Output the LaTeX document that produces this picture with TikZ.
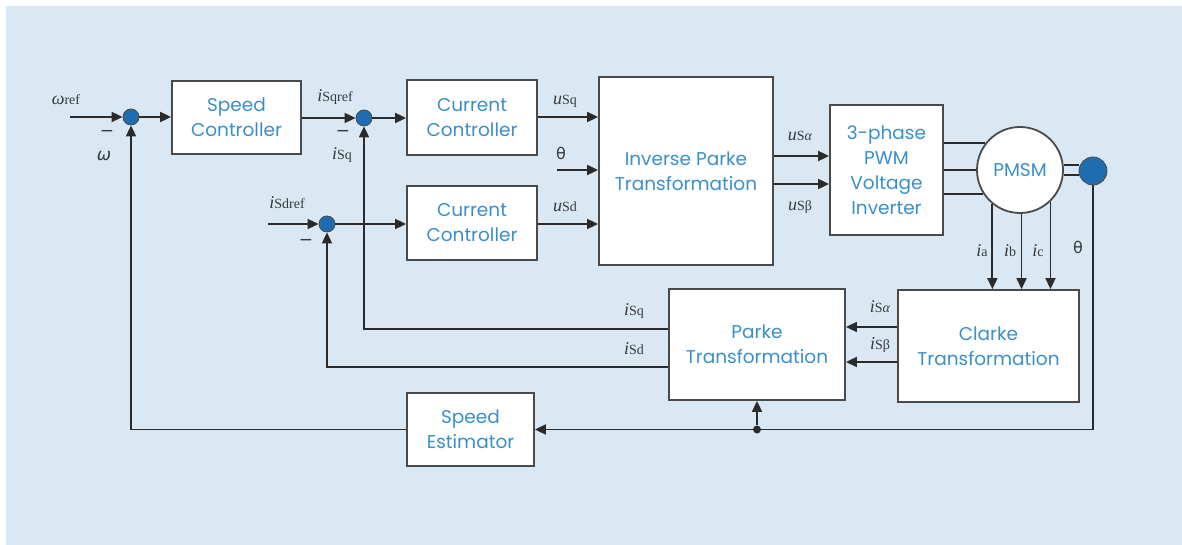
\documentclass[tikz,border=0pt]{standalone}
\usepackage{fontspec}
\setmainfont{Liberation Serif}
\newfontfamily\boxfont{Poppins}
\newfontfamily\grk{DejaVu Sans}
\usetikzlibrary{arrows.meta,calc}
\definecolor{bgc}{HTML}{D9E8F3}
\definecolor{linec}{HTML}{2B2B2B}
\definecolor{boxc}{HTML}{4A4A4A}
\definecolor{sumblue}{HTML}{1E6DB0}
\definecolor{txtc}{HTML}{3A8FCB}
\definecolor{labc}{HTML}{3A3A3A}
\newcommand{\sig}[2]{{\fontsize{18}{18}\selectfont\textit{#1}}{\fontsize{14}{14}\selectfont #2}}
\begin{document}
\begin{tikzpicture}[x=1pt,y=-1pt,
  blk/.style={draw=boxc, line width=1.8pt, fill=white, text=txtc, align=center, inner sep=0pt,
    font=\boxfont\fontsize{18.5}{25}\selectfont},
  sumc/.style={circle, fill=sumblue, draw=boxc, line width=0.8pt, minimum size=16pt, inner sep=0pt},
  arr/.style={line width=1.8pt, draw=linec, -{Triangle[length=11pt,width=10pt]}},
  ln/.style={line width=1.8pt, draw=linec},
  lab/.style={text=labc, inner sep=0pt},
  glab/.style={text=labc, inner sep=0pt, font=\grk\fontsize{16}{16}\selectfont},
  minus/.style={text=labc, inner sep=0pt, font=\grk\fontsize{17}{17}\selectfont},
  dot/.style={circle, fill=linec, minimum size=8pt, inner sep=0pt}
]
\useasboundingbox (0,0) rectangle (1182,545);
\fill[bgc] (6,6) rectangle (1182,545);

% blocks
\node[blk, minimum width=129pt, minimum height=73pt] (spc) at (236.5,117.5) {Speed\\Controller};
\node[blk, minimum width=130pt, minimum height=75pt] (cc1) at (472,117.5) {Current\\Controller};
\node[blk, minimum width=130pt, minimum height=74pt] (cc2) at (472,223) {Current\\Controller};
\node[blk, minimum width=174pt, minimum height=188pt] (ipt) at (686,171) {Inverse Parke\\Transformation};
\node[blk, minimum width=113pt, minimum height=130pt] (pwm) at (886.5,170) {3-phase\\PWM\\Voltage\\Inverter};
\node[blk, circle, minimum size=86pt] (pmsm) at (1020,170) {PMSM};
\node[sumc, minimum size=28pt] (enc) at (1093,171) {};
\node[blk, minimum width=181pt, minimum height=112pt] (clk) at (988.5,346) {Clarke\\Transformation};
\node[blk, minimum width=176pt, minimum height=111pt] (prk) at (757,344.5) {Parke\\Transformation};
\node[blk, minimum width=127pt, minimum height=73pt] (est) at (470.5,429.5) {Speed\\Estimator};

% summing junctions
\node[sumc] (s1) at (131,117) {};
\node[sumc] (s2) at (364,118) {};
\node[sumc] (s3) at (327,224) {};

% input coordinates
\coordinate (win) at (70,117);
\coordinate (idin) at (268,224);
\coordinate (thin) at (557,170);

% forward path
\draw[arr] (win) -- (s1);
\draw[arr] (s1) -- (s1 -| spc.west);
\draw[arr] (spc.east |- s2) -- (s2);
\draw[arr] (s2) -- (s2 -| cc1.west);
\draw[arr] (idin) -- (s3);
\draw[arr] (s3) -- (s3 -| cc2.west);
\draw[arr] (cc1.east |- 0,117) -- (ipt.west |- 0,117);
\draw[arr] (thin) -- (thin -| ipt.west);
\draw[arr] (cc2.east |- 0,224) -- (ipt.west |- 0,224);
\draw[arr] (ipt.east |- 0,156) -- (pwm.west |- 0,156);
\draw[arr] (ipt.east |- 0,184) -- (pwm.west |- 0,184);

% inverter to motor
\draw[ln] (pmsm.142.8 -| pwm.east) -- (pmsm.142.8);
\draw[ln] (pmsm.180 -| pwm.east) -- (pmsm.180);
\draw[ln] (pmsm.213.9 -| pwm.east) -- (pmsm.213.9);
% shaft
\draw[ln, line width=1.4pt] ([yshift=5pt]pmsm.east) -- ([yshift=5pt]pmsm.east -| enc.west);
\draw[ln, line width=1.4pt] ([yshift=-5pt]pmsm.east) -- ([yshift=-5pt]pmsm.east -| enc.west);

% phase currents
\draw[arr] (pmsm.231.1) -- (pmsm.231.1 |- clk.north);
\draw[arr] (pmsm.272.7) -- (pmsm.272.7 |- clk.north);
\draw[arr] (pmsm.314.3) -- (pmsm.314.3 |- clk.north);

% Clarke -> Parke
\draw[arr] (clk.west |- 0,327) -- (prk.east |- 0,327);
\draw[arr] (clk.west |- 0,362) -- (prk.east |- 0,362);

% Parke feedback
\draw[arr] (prk.west |- 0,329) -| (s2.south);
\draw[arr] (prk.west |- 0,367) -| (s3.south);

% angle / speed feedback
\node[dot] (j) at (prk.south |- est.east) {};
\draw[arr] (enc.south) |- (est.east);
\draw[arr] (j) -- (prk.south);
\draw[arr] (est.west) -| (s1.south);

% labels
\node[lab] (lw) at (66,100) {{\fontsize{18}{18}\selectfont\textit{ω}}{\fontsize{14}{14}\selectfont ref}};
\node[minus] (m1) at (107,133) {−};
\node[glab, font=\grk\itshape\fontsize{17}{17}\selectfont] (lom) at (104,156) {ω};
\node[lab] (l1) at (335,97) {\sig{i}{Sqref}};
\node[minus] (m2) at (343,133) {−};
\node[lab] (l2) at (342,155) {\sig{i}{Sq}};
\node[lab] (l3) at (287,203) {\sig{i}{Sdref}};
\node[minus] (m3) at (306,242) {−};
\node[lab] (l4) at (565,101) {\sig{u}{Sq}};
\node[glab] (l5) at (561,153) {θ};
\node[lab] (l6) at (565,207) {\sig{u}{Sd}};
\node[lab] (l7) at (800,136) {\sig{u}{S\textit{α}}};
\node[lab] (l8) at (800,207) {\sig{u}{Sβ}};
\node[lab] (la) at (982,251) {\sig{i}{a}};
\node[lab] (lb) at (1010,251) {\sig{i}{b}};
\node[lab] (lc) at (1038,251) {\sig{i}{c}};
\node[glab] (lt) at (1078,247) {θ};
\node[lab] (l9) at (880,307) {\sig{i}{S\textit{α}}};
\node[lab] (l10) at (880,345) {\sig{i}{Sβ}};
\node[lab] (l11) at (634,311) {\sig{i}{Sq}};
\node[lab] (l12) at (634,349) {\sig{i}{Sd}};
\end{tikzpicture}
\end{document}
